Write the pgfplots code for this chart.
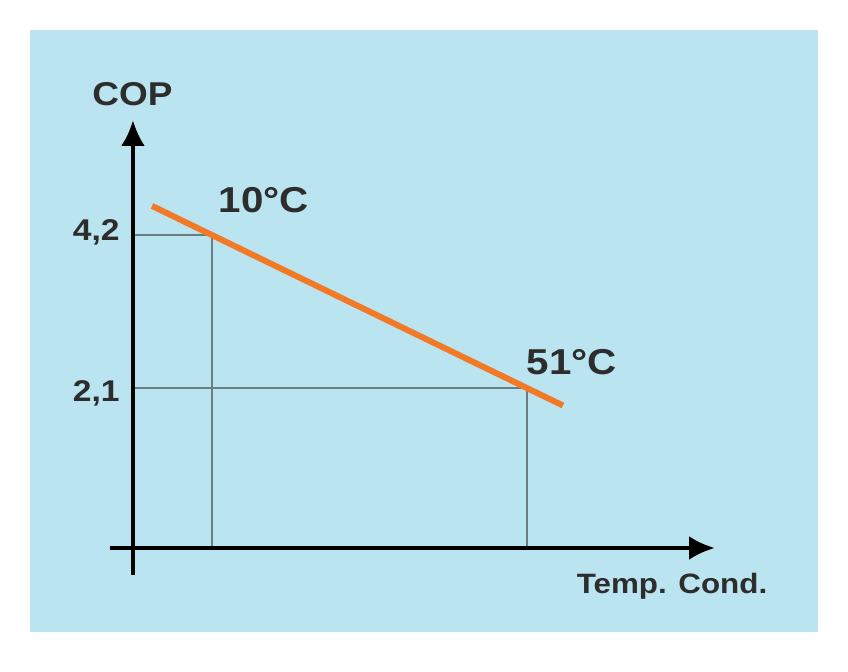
\documentclass[border=0pt]{standalone}
\usepackage{pgfplots}
\pgfplotsset{compat=1.18}
\usetikzlibrary{arrows.meta}
\usepackage{fontspec}
\setmainfont{Liberation Sans}
\newfontfamily\lab[FakeStretch=1.12]{Liberation Sans Bold}
\definecolor{bgblue}{RGB}{186,228,239}
\definecolor{cop}{RGB}{242,122,38}
\definecolor{guide}{RGB}{105,125,130}
\definecolor{txt}{RGB}{45,45,45}
\begin{document}
\begin{tikzpicture}
\path[use as bounding box,fill=white] (0pt,0pt) rectangle (424pt,336pt);
\fill[bgblue] (15pt,20pt) rectangle (409pt,321pt);
\begin{axis}[
  at={(67.6pt,65.5pt)}, anchor=origin,
  scale only axis, width=302.5pt, height=227.5pt,
  xmin=-3.28, xmax=75.5, ymin=-0.467, ymax=5.78,
  hide axis, clip=false,
]
% guide lines
\addplot[guide, line width=1.1pt] coordinates {(-0.29,4.2) (10,4.2) (10,-0.096)};
\addplot[guide, line width=1.1pt] coordinates {(-0.29,2.1) (51,2.1) (51,-0.096)};
% axes
\draw[black, line width=2.2pt, -{Latex[length=13pt,width=12pt]}] (axis cs:-3.28,-0.096) -- (axis cs:75.5,-0.096);
\draw[black, line width=2.2pt, -{Latex[length=13pt,width=12pt]}] (axis cs:-0.29,-0.467) -- (axis cs:-0.29,5.78);
% COP line
\addplot[cop, line width=3pt] coordinates {(2.19,4.60) (10,4.2) (51,2.1) (55.7,1.86)};
% labels
\node[txt, inner sep=0pt, font=\lab\fontsize{15}{17}\selectfont, anchor=base east] at (axis cs:-1.98,4.12) {4,2};
\node[txt, inner sep=0pt, font=\lab\fontsize{15}{17}\selectfont, anchor=base east] at (axis cs:-1.98,1.92) {2,1};
\node[txt, inner sep=0pt, font=\lab\fontsize{18}{20}\selectfont, anchor=base] at (axis cs:16.77,4.516) {10°C};
\node[txt, inner sep=0pt, font=\lab\fontsize{18}{20}\selectfont, anchor=base] at (axis cs:56.875,2.292) {51°C};
\node[txt, inner sep=0pt, font=\lab\fontsize{16.5}{18}\selectfont, anchor=base] at (axis cs:-0.35,5.984) {COP};
\node[txt, inner sep=0pt, font=\lab\fontsize{14}{16}\selectfont, anchor=base] at (axis cs:69.9,-0.727) {Temp. Cond.};
\end{axis}
\end{tikzpicture}
\end{document}
